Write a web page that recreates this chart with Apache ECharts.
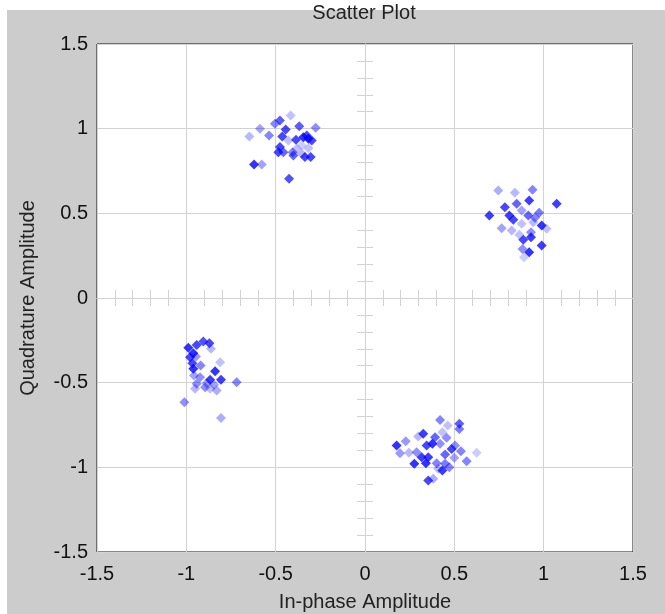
<!DOCTYPE html>
<html>
<head>
<meta charset="utf-8">
<script src="https://cdn.jsdelivr.net/npm/echarts@6/dist/echarts.min.js"></script>
<style>html,body{margin:0;padding:0;background:#fff}#c{width:665px;height:614px}</style>
</head>
<body>
<div id="c"></div>
<script>
// [in-phase, quadrature, intensity]
var clusterTL = [
  [-0.416,1.078,0.3],[-0.476,1.048,0.8],[-0.504,1.029,0.6],[-0.588,0.999,0.45],[-0.647,0.954,0.35],
  [-0.537,0.960,0.6],[-0.444,0.995,0.9],[-0.368,1.015,0.8],[-0.276,1.005,0.55],[-0.463,0.954,0.9],
  [-0.386,0.934,0.9],[-0.345,0.950,1.0],[-0.317,0.940,1.0],[-0.298,0.930,0.9],[-0.326,0.960,0.9],
  [-0.429,0.930,0.3],[-0.354,0.900,0.25],[-0.476,0.891,0.9],[-0.485,0.861,0.9],[-0.457,0.861,0.75],
  [-0.405,0.861,0.6],[-0.401,0.842,0.75],[-0.354,0.852,0.35],[-0.336,0.832,0.9],[-0.304,0.832,0.9],
  [-0.317,0.885,0.3],[-0.621,0.789,1.0],[-0.578,0.789,0.45],[-0.425,0.704,0.85],[-0.382,0.881,0.3]
];
var clusterTR = [
  [0.746,0.635,0.4],[0.839,0.621,0.35],[0.938,0.639,0.6],[0.919,0.576,0.95],[0.849,0.556,0.75],
  [1.073,0.556,0.95],[0.783,0.536,0.9],[0.696,0.487,0.95],[0.808,0.487,0.95],[0.877,0.517,0.45],
  [0.830,0.462,0.9],[0.914,0.487,0.75],[0.975,0.503,0.65],[0.942,0.448,0.35],[0.989,0.428,1.0],
  [0.877,0.438,0.3],[0.765,0.412,0.45],[0.821,0.399,0.35],[0.864,0.373,0.3],[0.929,0.389,0.55],
  [0.886,0.344,0.9],[0.929,0.359,0.95],[0.989,0.310,0.95],[0.882,0.290,0.55],[0.919,0.270,1.0],
  [0.890,0.241,0.25],[1.017,0.409,0.3],[0.951,0.474,0.6]
];
var clusterBL = [
  [-0.989,-0.294,1.0],[-0.942,-0.277,0.9],[-0.905,-0.257,0.85],[-0.871,-0.267,0.9],[-0.862,-0.300,0.35],
  [-0.961,-0.326,1.0],[-0.979,-0.350,0.9],[-0.946,-0.346,0.5],[-0.966,-0.385,0.9],[-0.811,-0.379,0.3],
  [-0.961,-0.418,1.0],[-0.920,-0.399,0.6],[-0.957,-0.458,0.45],[-0.839,-0.432,1.0],[-0.923,-0.468,0.55],
  [-0.867,-0.483,0.95],[-0.806,-0.483,0.95],[-0.886,-0.503,0.45],[-0.942,-0.507,0.55],[-0.895,-0.527,0.55],
  [-0.845,-0.513,0.45],[-0.951,-0.536,0.35],[-0.830,-0.546,0.4],[-0.718,-0.497,0.6],[-1.011,-0.615,0.55],
  [-0.806,-0.708,0.4],[-0.867,-0.536,0.3]
];
var clusterBR = [
  [0.420,-0.720,0.6],[0.463,-0.753,0.3],[0.528,-0.743,0.8],[0.528,-0.773,0.65],[0.326,-0.802,0.95],
  [0.298,-0.818,0.35],[0.433,-0.793,0.3],[0.392,-0.822,0.75],[0.457,-0.826,0.55],[0.228,-0.846,0.5],
  [0.177,-0.871,1.0],[0.345,-0.871,0.9],[0.377,-0.861,1.0],[0.420,-0.861,0.55],[0.504,-0.871,0.55],
  [0.485,-0.891,0.9],[0.196,-0.917,0.5],[0.246,-0.914,0.35],[0.289,-0.911,0.55],[0.448,-0.924,0.75],
  [0.537,-0.905,0.6],[0.317,-0.940,0.95],[0.354,-0.940,0.95],[0.569,-0.964,0.6],[0.625,-0.914,0.25],
  [0.500,-0.944,0.45],[0.341,-0.976,1.0],[0.276,-0.979,1.0],[0.401,-0.976,0.6],[0.448,-0.979,0.65],
  [0.410,-1.009,0.35],[0.433,-1.019,0.95],[0.472,-0.999,0.6],[0.354,-1.078,0.9],[0.382,-1.068,0.4]
];
var axisMin = -1.5, axisMax = 1.5, labelStep = 0.5, minorStep = 0.1;
var titleText = 'Scatter Plot';
var xName = 'In-phase Amplitude';
var yName = 'Quadrature Amplitude';

var points = clusterTL.concat(clusterTR, clusterBL, clusterBR);
var FONT = 'Liberation Sans';
var gridColor = '#d2d2d2';

function mainAxis(pos, name, gap, margin) {
  return {
    type: 'value', position: pos, min: axisMin, max: axisMax, interval: labelStep,
    name: name, nameLocation: 'middle', nameGap: gap,
    nameTextStyle: {fontFamily: FONT, fontSize: 20, color: '#222'},
    axisLine: {show: false, onZero: false},
    axisTick: {show: false},
    axisLabel: {fontFamily: FONT, fontSize: 20, color: '#111', margin: margin},
    splitLine: {show: true, lineStyle: {color: gridColor, width: 1}}
  };
}
function tickAxis(pos) {
  return {
    type: 'value', position: pos, min: axisMin, max: axisMax, interval: minorStep,
    axisLine: {show: true, onZero: true, onZeroAxisIndex: 0, lineStyle: {color: gridColor, width: 1}},
    axisTick: {show: true, inside: true, length: 8, lineStyle: {color: gridColor, width: 1}},
    axisLabel: {show: false},
    splitLine: {show: false}
  };
}

var chart = echarts.init(document.getElementById('c'), null, {renderer: 'canvas'});
chart.setOption({
  animation: false,
  backgroundColor: '#ffffff',
  graphic: [
    {type: 'rect', left: 7, top: 10, shape: {width: 658, height: 604}, style: {fill: '#cccccc'}, z: -10, silent: true},
    {type: 'text', x: 364, y: 3, style: {text: titleText, fontFamily: FONT, fontSize: 20, fill: '#222', textAlign: 'center', textVerticalAlign: 'top'}, z: 5, silent: true}
  ],
  grid: {left: 97, right: 32, top: 44, bottom: 62, show: true, containLabel: false, outerBoundsMode: 'none',
         backgroundColor: '#ffffff', borderColor: '#111', borderWidth: 1},
  xAxis: [mainAxis('bottom', xName, 40, 12), tickAxis('bottom'), tickAxis('top')],
  yAxis: [mainAxis('left', yName, 59, 9), tickAxis('left'), tickAxis('right')],
  visualMap: {
    show: false, type: 'continuous', min: 0, max: 1, dimension: 2, seriesIndex: 0,
    inRange: {colorAlpha: [0, 1]}
  },
  series: [{
    type: 'scatter', xAxisIndex: 0, yAxisIndex: 0,
    symbol: 'diamond', symbolSize: 10,
    itemStyle: {color: '#0000ff'},
    data: points
  }]
});
</script>
</body>
</html>
